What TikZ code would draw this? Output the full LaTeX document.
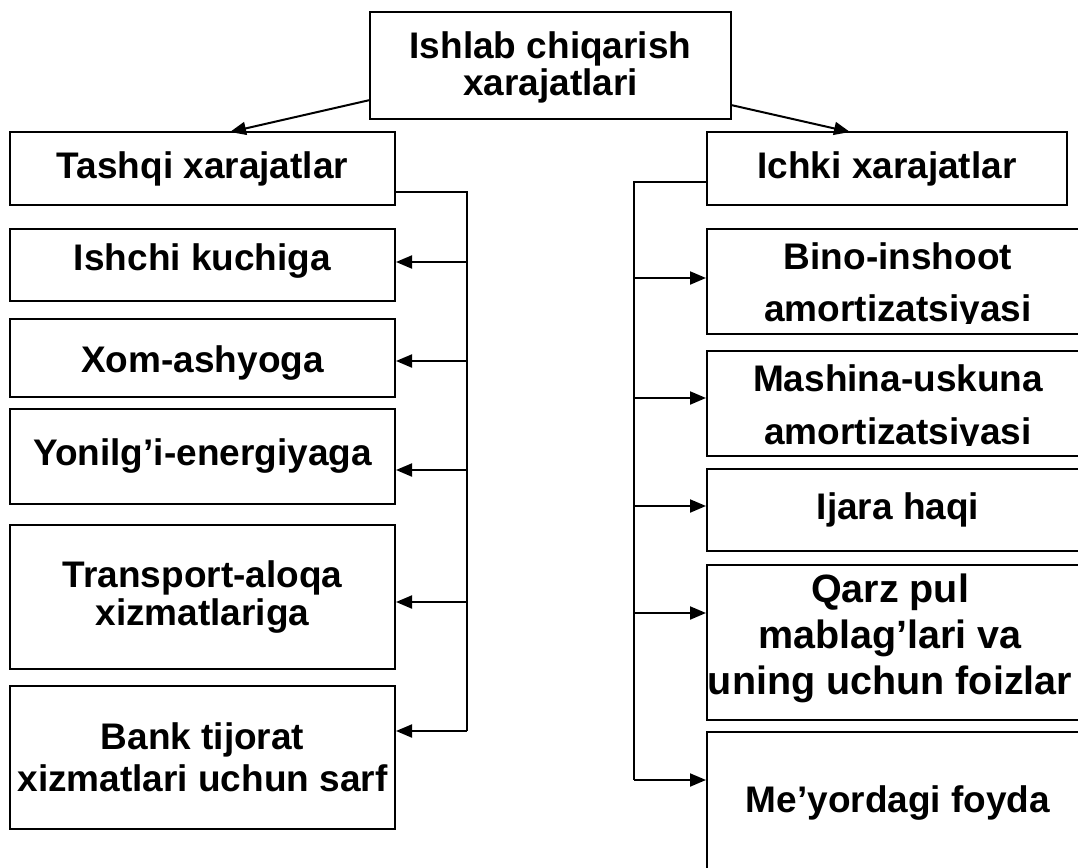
\documentclass[tikz,border=0pt]{standalone}
\usepackage{fontspec}
\setmainfont{Liberation Sans}
\usetikzlibrary{arrows.meta,calc}
\begin{document}
\begin{tikzpicture}[x=1pt,y=-1pt,
  box/.style={draw, line width=2pt, inner sep=0pt, align=center,
    font=\bfseries\fontsize{37}{38}\selectfont},
  txt/.style={inner sep=0pt, align=center},
  conn/.style={line width=2pt},
  arr/.style={line width=2pt, -{Triangle[length=16pt,width=13pt]}}]
\useasboundingbox (0,0) rectangle (1078,867);
\clip (0,0) rectangle (1078,867);
\fill[white] (0,0) rectangle (1078,867);

% top
\node[box, minimum width=361, minimum height=107] (top) at (550.5,65.5) {};
\node[txt, font=\bfseries\fontsize{37}{37}\selectfont] (topt) at (550.5,67)
  {Ishlab chiqarish\\xarajatlari};

% left column
\node[box, minimum width=385, minimum height=73] (tashqi) at (202.5,168.5) {Tashqi xarajatlar};
\node[box, minimum width=385, minimum height=72] (ishchi) at (202.5,265) {};
\node[txt, font=\bfseries\fontsize{37}{38}\selectfont] (ishchit) at (202.5,261) {Ishchi kuchiga};
\node[box, minimum width=385, minimum height=78] (xom) at (202.5,358) {};
\node[txt, font=\bfseries\fontsize{37}{38}\selectfont] (xomt) at (202.5,363) {Xom-ashyoga};
\node[box, minimum width=385, minimum height=95] (yon) at (202.5,456.5) {Yonilg’i-energiyaga};
\node[box, minimum width=385, minimum height=144,
  font=\bfseries\fontsize{37}{38}\selectfont] (trans) at (202.5,597) {Transport-aloqa\\xizmatlariga};
\node[box, minimum width=385, minimum height=143,
  font=\bfseries\fontsize{37}{42}\selectfont] (bank) at (202.5,757) {Bank tijorat\\xizmatlari uchun sarf};

% right column
\node[box, minimum width=360, minimum height=73] (ichki) at (887,168.5) {Ichki xarajatlar};
\node[box, minimum width=382, minimum height=105] (bino) at (898,281.5) {};
\begin{scope}
  \clip (700,220) rectangle (1090,323.5);
  \node[txt, font=\bfseries\fontsize{37}{52}\selectfont] (binot) at (898,286) {Bino-inshoot\\amortizatsiyasi};
\end{scope}
\node[box, minimum width=382, minimum height=105] (mash) at (898,403.5) {};
\begin{scope}
  \clip (700,340) rectangle (1090,445.5);
  \node[txt, font=\bfseries\fontsize{37}{53}\selectfont] (masht) at (898,408.5) {Mashina-uskuna\\amortizatsiyasi};
\end{scope}
\node[box, minimum width=382, minimum height=82] (ijara) at (898,510) {Ijara haqi};
\node[box, minimum width=382, minimum height=155] (qarz) at (898,642.5) {};
\node[txt, font=\bfseries\fontsize{39.5}{46}\selectfont] (qarzt) at (890,638) {Qarz pul\\mablag’lari va\\uning uchun foizlar};
\node[box, minimum width=382, minimum height=142] (meyor) at (898,803) {Me’yordagi foyda};

% top arrows
\coordinate (tl) at (370,100);
\coordinate (tr) at (731,105);
\coordinate (tlend) at (230,132);
\coordinate (trend) at (850,132);
\draw[arr] (tl) -- (tlend);
\draw[arr] (tr) -- (trend);

% left spine
\coordinate (ls) at (467,192);
\coordinate (l1) at (467,262);
\coordinate (l2) at (467,361);
\coordinate (l3) at (467,470);
\coordinate (l4) at (467,602);
\coordinate (l5) at (467,731);
\draw[conn] (tashqi.east |- ls) -- (ls) -- (l5);
\draw[arr] (l1) -- (l1 -| ishchi.east);
\draw[arr] (l2) -- (l2 -| xom.east);
\draw[arr] (l3) -- (l3 -| yon.east);
\draw[arr] (l4) -- (l4 -| trans.east);
\draw[arr] (l5) -- (l5 -| bank.east);

% right spine
\coordinate (rs) at (634,182);
\coordinate (r1) at (634,278);
\coordinate (r2) at (634,398);
\coordinate (r3) at (634,506);
\coordinate (r4) at (634,613);
\coordinate (r5) at (634,780);
\draw[conn] (ichki.west |- rs) -- (rs) -- (r5);
\draw[arr] (r1) -- (r1 -| bino.west);
\draw[arr] (r2) -- (r2 -| mash.west);
\draw[arr] (r3) -- (r3 -| ijara.west);
\draw[arr] (r4) -- (r4 -| qarz.west);
\draw[arr] (r5) -- (r5 -| meyor.west);
\end{tikzpicture}
\end{document}
